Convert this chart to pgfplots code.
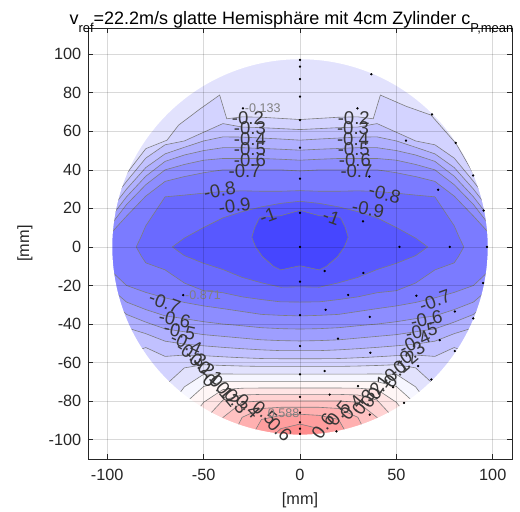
\documentclass[border=0pt]{standalone}
\usepackage{pgfplots}
\pgfplotsset{compat=1.18}
\usepackage{fontspec}
\setmainfont{Liberation Sans}
\definecolor{axgray}{RGB}{38,38,38}
\definecolor{clgray}{RGB}{125,125,125}
\definecolor{lblgray}{RGB}{55,55,55}
\definecolor{bA}{RGB}{70,70,255}   % -1.1 .. -1.0
\definecolor{bB}{RGB}{88,88,255}   % -1.0 .. -0.9
\definecolor{bC}{RGB}{106,106,255} % -0.9 .. -0.8
\definecolor{bD}{RGB}{123,123,255} % -0.8 .. -0.7
\definecolor{bE}{RGB}{141,141,255} % -0.7 .. -0.6
\definecolor{bF}{RGB}{158,158,255} % -0.6 .. -0.5
\definecolor{bG}{RGB}{176,176,255} % -0.5 .. -0.4
\definecolor{bH}{RGB}{193,193,255} % -0.4 .. -0.3
\definecolor{bI}{RGB}{211,211,255} % -0.3 .. -0.2
\definecolor{bJ}{RGB}{226,226,253} % -0.2 .. -0.1
\definecolor{bK}{RGB}{246,246,255} % -0.1 .. 0
\definecolor{rA}{RGB}{255,246,246} % 0 .. 0.1
\definecolor{rB}{RGB}{255,229,229} % 0.1 .. 0.2
\definecolor{rC}{RGB}{255,211,211} % 0.2 .. 0.3
\definecolor{rD}{RGB}{255,193,193} % 0.3 .. 0.4
\definecolor{rE}{RGB}{255,176,176} % 0.4 .. 0.5
\definecolor{rF}{RGB}{255,158,158} % 0.5 .. 0.6
\definecolor{rG}{RGB}{255,141,141} % 0.6 .. 0.7
\tikzset{lbl/.style={font=\fontsize{13.9}{16}\selectfont, text=lblgray, inner sep=0pt},
  ann/.style={font=\fontsize{9.4}{11}\selectfont, text=gray, inner sep=0pt, anchor=west}}
\pgfplotsset{band/.style={fill=#1, draw=none}, cl/.style={clgray, line width=0.45pt}}
\begin{document}
\begin{tikzpicture}
\begin{axis}[
  x=1.4455pt, y=1.4455pt,
  xmin=-110, xmax=110, ymin=-110, ymax=113.6,
  axis on top,
  xtick={-100,-50,0,50,100}, xticklabels={-100,-50,0,50,100},
  ytick={-100,-80,-60,-40,-20,0,20,40,60,80,100},
  yticklabels={-100,-80,-60,-40,-20,0,20,40,60,80,100},
  tick align=inside, major tick length=3.75pt,
  grid=major, grid style={black, opacity=0.15, line width=0.4pt},
  axis line style={axgray, line width=0.5pt},
  tick style={axgray, line width=0.5pt},
  ticklabel style={font=\fontsize{12.2}{14}\selectfont, text=axgray},
  yticklabel style={xshift=-1.5pt},
  xticklabel style={yshift=-4pt},
  xlabel={[mm]}, ylabel={[mm]},
  label style={font=\fontsize{12.2}{14}\selectfont, text=axgray},
  xlabel style={at={(axis description cs:0.5,-0.0951)}, anchor=center},
  ylabel style={at={(axis description cs:-0.1486,0.5)}, anchor=center},
]
% background band (-0.2 .. -0.1)
\addplot[band=bJ] coordinates {(-105,-105) (105,-105) (105,105) (-105,105)};
% nested bands, v < level
\addplot[band=bI] coordinates {(-100,25.0) (-88,40.6) (-80,51) (-69,55.4) (-63,63.2) (-52,71.5) (-41.7,78.8) (-38,66.5) (-30,67.5) (-20,67.3) (-10,66.7) (0,66.1) (10,66.7) (20,67.3) (30,67.5) (38,66.5) (41.7,78.8) (55,73) (68,68.4) (81,53.6) (90,38) (100,22)
 (100,-66.0) (90,-70.4) (80,-70.1) (70,-71.9) (60,-62.75) (50,-61.1) (40,-61.5) (30,-61.8) (20,-62.0) (10,-62.0) (0,-62.0) (-10,-62.0) (-20,-62.0) (-30,-61.8) (-40,-61.5) (-50,-61.1) (-60,-62.75) (-70,-71.9) (-80,-70.1) (-90,-70.4) (-100,-66.0)};
\addplot[band=bH] coordinates {(-100,21.0) (-90,34.0) (-80,46.1) (-70,53.0) (-60,55.0) (-50,59.5) (-40,64.0) (-30,62.2) (-20,61.9) (-10,61.4) (0,60.9) (10,61.4) (20,61.9) (30,62.2) (40,64.0) (50,59.5) (60,55.0) (70,53.0) (80,46.1) (90,34.0) (100,21.0)
 (100,-49.0) (90,-55.7) (80,-52.2) (70,-56.8) (60,-56.1) (50,-56.4) (40,-57.0) (30,-57.5) (20,-57.9) (10,-58.0) (0,-58.0) (-10,-58.0) (-20,-57.9) (-30,-57.5) (-40,-57.0) (-50,-56.4) (-60,-56.1) (-70,-56.8) (-80,-52.2) (-90,-55.7) (-100,-49.0)};
\addplot[band=bG] coordinates {(-100,17.0) (-90,30.0) (-80,41.2) (-70,48.3) (-60,51.7) (-50,55.0) (-40,57.1) (-30,57.0) (-20,56.5) (-10,56.0) (0,55.4) (10,56.0) (20,56.5) (30,57.0) (40,57.1) (50,55.0) (60,51.7) (70,48.3) (80,41.2) (90,30.0) (100,17.0)
 (100,-33.2) (90,-41.9) (80,-45.0) (70,-48.9) (60,-50.4) (50,-51.3) (40,-52.1) (30,-52.8) (20,-53.4) (10,-53.8) (0,-53.8) (-10,-53.8) (-20,-53.4) (-30,-52.8) (-40,-52.1) (-50,-51.3) (-60,-50.4) (-70,-48.9) (-80,-45.0) (-90,-41.9) (-100,-33.2)};
\addplot[band=bF] coordinates {(-100,13.0) (-90,26.0) (-80,36.7) (-70,44.4) (-60,47.7) (-50,50.0) (-40,51.5) (-30,51.5) (-20,51.1) (-10,50.7) (0,50.2) (10,50.7) (20,51.1) (30,51.5) (40,51.5) (50,50.0) (60,47.7) (70,44.4) (80,36.7) (90,26.0) (100,13.0)
 (100,-26.0) (90,-35.0) (80,-39.0) (70,-42.5) (60,-44.0) (50,-45.5) (40,-46.4) (30,-47.3) (20,-48.2) (10,-48.6) (0,-48.8) (-10,-48.6) (-20,-48.2) (-30,-47.3) (-40,-46.4) (-50,-45.5) (-60,-44.0) (-70,-42.5) (-80,-39.0) (-90,-35.0) (-100,-26.0)};
\addplot[band=bE] coordinates {(-100,9.0) (-90,22.0) (-80,32.3) (-70,40.0) (-60,42.8) (-50,45.0) (-40,45.9) (-30,45.9) (-20,45.9) (-10,45.5) (0,45.0) (10,45.5) (20,45.9) (30,45.9) (40,45.9) (50,45.0) (60,42.8) (70,40.0) (80,32.3) (90,22.0) (100,9.0)
 (100,-20.0) (90,-28.6) (80,-32.5) (70,-35.75) (60,-37.2) (50,-38.8) (40,-40.0) (30,-40.9) (20,-41.9) (10,-42.4) (0,-42.6) (-10,-42.4) (-20,-41.9) (-30,-40.9) (-40,-40.0) (-50,-38.8) (-60,-37.2) (-70,-35.75) (-80,-32.5) (-90,-28.6) (-100,-20.0)};
\addplot[band=bD] coordinates {(-100,5.0) (-90,16.0) (-80,26.4) (-70,34.0) (-60,36.5) (-50,38.5) (-40,40.0) (-30,40.0) (-20,40.0) (-10,40.0) (0,39.4) (10,40.0) (20,40.0) (30,40.0) (40,40.0) (50,38.5) (60,36.5) (70,34.0) (80,26.4) (90,16.0) (100,5.0)
 (100,-10.6) (90,-20.0) (80,-23.6) (70,-26.4) (60,-28.8) (50,-30.6) (40,-32.0) (30,-33.5) (20,-35.0) (10,-35.5) (0,-35.8) (-10,-35.5) (-20,-35.0) (-30,-33.5) (-40,-32.0) (-50,-30.6) (-60,-28.8) (-70,-26.4) (-80,-23.6) (-90,-20.0) (-100,-10.6)};
\addplot[band=bC] coordinates {(0,29.2) (10,28.9) (20,28.9) (30,29.1) (40,28.8) (50,27.9) (60,26.9) (70,26.0) (80,11.0) (82.6,5) (85,0) (82.2,-5) (80,-8.25) (70,-11.9) (60,-18.7) (50,-22.7) (40,-23.75) (30,-25.9) (20,-27.3) (10,-28.5) (0,-28.6) (-10,-28.5) (-20,-27.3) (-30,-25.9) (-40,-23.75) (-50,-22.7) (-60,-18.7) (-70,-11.9) (-80,-8.25) (-82.2,-5) (-85,0) (-82.6,5) (-80,11.0) (-70,26.0) (-60,26.9) (-50,27.9) (-40,28.8) (-30,29.1) (-20,28.9) (-10,28.9) (0,29.2)};
\addplot[band=bB] coordinates {(0,23.7) (10,22.6) (20,20.8) (30,18.3) (40,15.1) (50,10.1) (60,4.6) (66.25,0) (60,-4.5) (50,-8.5) (40,-11.7) (30,-15.8) (20,-18.6) (10,-20.9) (0,-20.7) (-10,-20.9) (-20,-18.6) (-30,-15.8) (-40,-11.7) (-50,-8.5) (-60,-4.5) (-66.25,0) (-60,4.6) (-50,10.1) (-40,15.1) (-30,18.3) (-20,20.8) (-10,22.6) (0,23.7)};
\addplot[band=bA] coordinates {(0,19.0) (10,16.2) (20,15.5) (21.1,15) (23.5,10) (25,5) (23,0) (19.5,-5) (13.75,-10) (10,-11.9) (1.2,-10) (0,-9.8) (-1.2,-10) (-10,-11.9) (-13.75,-10) (-19.5,-5) (-23,0) (-25,5) (-23.5,10) (-21.1,15) (-20,15.5) (-10,16.2) (0,19.0)};
% nested bands, v > level
\addplot[band=bK] coordinates {(-80,-85.1) (-70,-86.0) (-60,-72.6) (-50,-66.1) (-40,-65.9) (-30,-66.0) (-20,-66.0) (-10,-66.0) (0,-66.0) (10,-66.0) (20,-66.0) (30,-66.0) (40,-65.9) (50,-66.1) (60,-72.6) (70,-86.0) (80,-85.1) (80,-105) (-80,-105)};
\addplot[band=rA] coordinates {(-70,-100) (-60,-81.4) (-50,-72.4) (-40,-69.9) (-30,-69.9) (-20,-69.9) (-10,-69.9) (0,-69.9) (10,-69.9) (20,-69.9) (30,-69.9) (40,-69.9) (50,-72.4) (60,-81.4) (70,-100) (70,-105) (-70,-105)};
\addplot[band=rB] coordinates {(-65,-100) (-60,-93.7) (-50,-80.6) (-40,-74.0) (-30,-73.3) (-20,-73.2) (-10,-73.2) (0,-73.2) (10,-73.2) (20,-73.2) (30,-73.3) (40,-74.0) (50,-80.6) (60,-93.7) (65,-100) (65,-105) (-65,-105)};
\addplot[band=rC] coordinates {(-55,-100) (-50,-90.2) (-40,-79.5) (-30,-76.8) (-20,-76.5) (-10,-76.5) (0,-76.5) (10,-76.5) (20,-76.5) (30,-76.8) (40,-79.5) (50,-90.2) (55,-100) (55,-105) (-55,-105)};
\addplot[band=rD] coordinates {(-45,-100) (-40,-88.5) (-30,-80.6) (-20,-79.9) (-10,-79.9) (0,-79.9) (10,-79.9) (20,-79.9) (30,-80.6) (40,-88.5) (45,-100) (45,-105) (-45,-105)};
\addplot[band=rE] coordinates {(-36,-100) (-30,-88.4) (-20,-83.8) (-10,-83.2) (0,-83.2) (10,-83.2) (20,-83.8) (30,-88.4) (36,-100) (36,-105) (-36,-105)};
\addplot[band=rF] coordinates {(-26,-100) (-20,-89.5) (-10,-87.4) (0,-86.8) (10,-87.4) (20,-89.5) (26,-100) (26,-105) (-26,-105)};
\addplot[band=rG] coordinates {(-16,-100) (-10,-94.3) (0,-91.9) (10,-94.3) (16,-100) (16,-105) (-16,-105)};
% contour lines
\addplot[cl] coordinates {(-100,25.0) (-88,40.6) (-80,51) (-69,55.4) (-63,63.2) (-52,71.5) (-41.7,78.8) (-38,66.5) (-30,67.5) (-20,67.3) (-10,66.7) (0,66.1) (10,66.7) (20,67.3) (30,67.5) (38,66.5) (41.7,78.8) (55,73) (68,68.4) (81,53.6) (90,38) (100,22)};
\addplot[cl] coordinates {(-100,21.0) (-90,34.0) (-80,46.1) (-70,53.0) (-60,55.0) (-50,59.5) (-40,64.0) (-30,62.2) (-20,61.9) (-10,61.4) (0,60.9) (10,61.4) (20,61.9) (30,62.2) (40,64.0) (50,59.5) (60,55.0) (70,53.0) (80,46.1) (90,34.0) (100,21.0)};
\addplot[cl] coordinates {(-100,17.0) (-90,30.0) (-80,41.2) (-70,48.3) (-60,51.7) (-50,55.0) (-40,57.1) (-30,57.0) (-20,56.5) (-10,56.0) (0,55.4) (10,56.0) (20,56.5) (30,57.0) (40,57.1) (50,55.0) (60,51.7) (70,48.3) (80,41.2) (90,30.0) (100,17.0)};
\addplot[cl] coordinates {(-100,13.0) (-90,26.0) (-80,36.7) (-70,44.4) (-60,47.7) (-50,50.0) (-40,51.5) (-30,51.5) (-20,51.1) (-10,50.7) (0,50.2) (10,50.7) (20,51.1) (30,51.5) (40,51.5) (50,50.0) (60,47.7) (70,44.4) (80,36.7) (90,26.0) (100,13.0)};
\addplot[cl] coordinates {(-100,9.0) (-90,22.0) (-80,32.3) (-70,40.0) (-60,42.8) (-50,45.0) (-40,45.9) (-30,45.9) (-20,45.9) (-10,45.5) (0,45.0) (10,45.5) (20,45.9) (30,45.9) (40,45.9) (50,45.0) (60,42.8) (70,40.0) (80,32.3) (90,22.0) (100,9.0)};
\addplot[cl] coordinates {(-100,5.0) (-90,16.0) (-80,26.4) (-70,34.0) (-60,36.5) (-50,38.5) (-40,40.0) (-30,40.0) (-20,40.0) (-10,40.0) (0,39.4) (10,40.0) (20,40.0) (30,40.0) (40,40.0) (50,38.5) (60,36.5) (70,34.0) (80,26.4) (90,16.0) (100,5.0)};
\addplot[cl] coordinates {(0,29.2) (10,28.9) (20,28.9) (30,29.1) (40,28.8) (50,27.9) (60,26.9) (70,26.0) (80,11.0) (82.6,5) (85,0) (82.2,-5) (80,-8.25) (70,-11.9) (60,-18.7) (50,-22.7) (40,-23.75) (30,-25.9) (20,-27.3) (10,-28.5) (0,-28.6) (-10,-28.5) (-20,-27.3) (-30,-25.9) (-40,-23.75) (-50,-22.7) (-60,-18.7) (-70,-11.9) (-80,-8.25) (-82.2,-5) (-85,0) (-82.6,5) (-80,11.0) (-70,26.0) (-60,26.9) (-50,27.9) (-40,28.8) (-30,29.1) (-20,28.9) (-10,28.9) (0,29.2)};
\addplot[cl] coordinates {(0,23.7) (10,22.6) (20,20.8) (30,18.3) (40,15.1) (50,10.1) (60,4.6) (66.25,0) (60,-4.5) (50,-8.5) (40,-11.7) (30,-15.8) (20,-18.6) (10,-20.9) (0,-20.7) (-10,-20.9) (-20,-18.6) (-30,-15.8) (-40,-11.7) (-50,-8.5) (-60,-4.5) (-66.25,0) (-60,4.6) (-50,10.1) (-40,15.1) (-30,18.3) (-20,20.8) (-10,22.6) (0,23.7)};
\addplot[cl] coordinates {(0,19.0) (10,16.2) (20,15.5) (21.1,15) (23.5,10) (25,5) (23,0) (19.5,-5) (13.75,-10) (10,-11.9) (1.2,-10) (0,-9.8) (-1.2,-10) (-10,-11.9) (-13.75,-10) (-19.5,-5) (-23,0) (-25,5) (-23.5,10) (-21.1,15) (-20,15.5) (-10,16.2) (0,19.0)};
\addplot[cl] coordinates {(-100,-10.6) (-90,-20.0) (-80,-23.6) (-70,-26.4) (-60,-28.8) (-50,-30.6) (-40,-32.0) (-30,-33.5) (-20,-35.0) (-10,-35.5) (0,-35.8) (10,-35.5) (20,-35.0) (30,-33.5) (40,-32.0) (50,-30.6) (60,-28.8) (70,-26.4) (80,-23.6) (90,-20.0) (100,-10.6)};
\addplot[cl] coordinates {(-100,-20.0) (-90,-28.6) (-80,-32.5) (-70,-35.75) (-60,-37.2) (-50,-38.8) (-40,-40.0) (-30,-40.9) (-20,-41.9) (-10,-42.4) (0,-42.6) (10,-42.4) (20,-41.9) (30,-40.9) (40,-40.0) (50,-38.8) (60,-37.2) (70,-35.75) (80,-32.5) (90,-28.6) (100,-20.0)};
\addplot[cl] coordinates {(-100,-26.0) (-90,-35.0) (-80,-39.0) (-70,-42.5) (-60,-44.0) (-50,-45.5) (-40,-46.4) (-30,-47.3) (-20,-48.2) (-10,-48.6) (0,-48.8) (10,-48.6) (20,-48.2) (30,-47.3) (40,-46.4) (50,-45.5) (60,-44.0) (70,-42.5) (80,-39.0) (90,-35.0) (100,-26.0)};
\addplot[cl] coordinates {(-100,-33.2) (-90,-41.9) (-80,-45.0) (-70,-48.9) (-60,-50.4) (-50,-51.3) (-40,-52.1) (-30,-52.8) (-20,-53.4) (-10,-53.8) (0,-53.8) (10,-53.8) (20,-53.4) (30,-52.8) (40,-52.1) (50,-51.3) (60,-50.4) (70,-48.9) (80,-45.0) (90,-41.9) (100,-33.2)};
\addplot[cl] coordinates {(-100,-49.0) (-90,-55.7) (-80,-52.2) (-70,-56.8) (-60,-56.1) (-50,-56.4) (-40,-57.0) (-30,-57.5) (-20,-57.9) (-10,-58.0) (0,-58.0) (10,-58.0) (20,-57.9) (30,-57.5) (40,-57.0) (50,-56.4) (60,-56.1) (70,-56.8) (80,-52.2) (90,-55.7) (100,-49.0)};
\addplot[cl] coordinates {(-100,-66.0) (-90,-70.4) (-80,-70.1) (-70,-71.9) (-60,-62.75) (-50,-61.1) (-40,-61.5) (-30,-61.8) (-20,-62.0) (-10,-62.0) (0,-62.0) (10,-62.0) (20,-62.0) (30,-61.8) (40,-61.5) (50,-61.1) (60,-62.75) (70,-71.9) (80,-70.1) (90,-70.4) (100,-66.0)};
\addplot[cl] coordinates {(-80,-85.1) (-70,-86.0) (-60,-72.6) (-50,-66.1) (-40,-65.9) (-30,-66.0) (-20,-66.0) (-10,-66.0) (0,-66.0) (10,-66.0) (20,-66.0) (30,-66.0) (40,-65.9) (50,-66.1) (60,-72.6) (70,-86.0) (80,-85.1)};
\addplot[cl] coordinates {(-70,-100) (-60,-81.4) (-50,-72.4) (-40,-69.9) (-30,-69.9) (-20,-69.9) (-10,-69.9) (0,-69.9) (10,-69.9) (20,-69.9) (30,-69.9) (40,-69.9) (50,-72.4) (60,-81.4) (70,-100)};
\addplot[cl] coordinates {(-65,-100) (-60,-93.7) (-50,-80.6) (-40,-74.0) (-30,-73.3) (-20,-73.2) (-10,-73.2) (0,-73.2) (10,-73.2) (20,-73.2) (30,-73.3) (40,-74.0) (50,-80.6) (60,-93.7) (65,-100)};
\addplot[cl] coordinates {(-55,-100) (-50,-90.2) (-40,-79.5) (-30,-76.8) (-20,-76.5) (-10,-76.5) (0,-76.5) (10,-76.5) (20,-76.5) (30,-76.8) (40,-79.5) (50,-90.2) (55,-100)};
\addplot[cl] coordinates {(-45,-100) (-40,-88.5) (-30,-80.6) (-20,-79.9) (-10,-79.9) (0,-79.9) (10,-79.9) (20,-79.9) (30,-80.6) (40,-88.5) (45,-100)};
\addplot[cl] coordinates {(-36,-100) (-30,-88.4) (-20,-83.8) (-10,-83.2) (0,-83.2) (10,-83.2) (20,-83.8) (30,-88.4) (36,-100)};
\addplot[cl] coordinates {(-26,-100) (-20,-89.5) (-10,-87.4) (0,-86.8) (10,-87.4) (20,-89.5) (26,-100)};
\addplot[cl] coordinates {(-16,-100) (-10,-94.3) (0,-91.9) (10,-94.3) (16,-100)};
% mask outside the measured disc
\fill[white, even odd rule] (rel axis cs:0,0) rectangle (rel axis cs:1,1) (axis cs:0,0) circle[radius=97.4];
% measurement points
\addplot[only marks, mark=*, mark size=0.65pt, black] coordinates {
(0,97) (0,93.6) (0,87.1) (0,78) (0,65.8) (0,51.5) (0,35.4) (0,17.7) (0,0) (0,-18) (0,-35.4) (0,-51.4) (0,-66.1) (0,-77.8) (0,-86) (0,-91) (0,-94.3) (0,-97)
(-29.6,71.9) (-60.6,-25)
(37,89.6) (29.8,71.9) (68.5,68.75) (55,55.2) (80.8,54) (89.8,37.1) (36,36.5) (71.7,29.7) (95.3,18.9) (32.7,13.3) (51.6,0) (77.7,0) (97,0) (12.8,-12.5) (32.9,-13.5) (95,-18.75) (25,-24.9) (60.4,-25.3) (13.3,-32.6) (36.2,-36.3) (80.3,-33.5) (89.9,-37.1) (19.7,-47.6) (72.5,-48.4) (36.5,-54.9) (80.3,-54) (61.3,-61.8) (12.8,-64.4) (68.2,-68.8) (30.1,-72.2) (48.3,-72.8) (15.4,-76.6) (54,-80.9) (36.2,-87) (18.9,-95.7)
};
% contour labels
\node[lbl] at (axis cs:-27,66.7) {-0.2};
\node[lbl] at (axis cs:-26,61.5) {-0.3};
\node[lbl] at (axis cs:-26,56.2) {-0.4};
\node[lbl] at (axis cs:-26,50.7) {-0.5};
\node[lbl] at (axis cs:-26,45) {-0.6};
\node[lbl] at (axis cs:-28.7,39.2) {-0.7};
\node[lbl] at (axis cs:27.9,66.7) {-0.2};
\node[lbl] at (axis cs:27.5,61.5) {-0.3};
\node[lbl] at (axis cs:27.5,56.2) {-0.4};
\node[lbl] at (axis cs:27.9,50.7) {-0.5};
\node[lbl] at (axis cs:28.5,45) {-0.6};
\node[lbl] at (axis cs:29.3,39.2) {-0.7};
\node[lbl, rotate=10] at (axis cs:-41.7,29.3) {-0.8};
\node[lbl, rotate=-15] at (axis cs:44,27.6) {-0.8};
\node[lbl, rotate=8] at (axis cs:-33.9,21.5) {-0.9};
\node[lbl, rotate=-10] at (axis cs:35.3,19.8) {-0.9};
\node[lbl, rotate=20] at (axis cs:-16.6,16.3) {-1};
\node[lbl, rotate=-20] at (axis cs:16.3,15.5) {-1};
\node[lbl, rotate=-20] at (axis cs:-70.2,-28.8) {-0.7};
\node[lbl, rotate=-12] at (axis cs:-65,-37.5) {-0.6};
\node[lbl, rotate=-12] at (axis cs:-62.4,-43.6) {-0.5};
\node[lbl, rotate=-25] at (axis cs:-59,-50) {-0.4};
\node[lbl, rotate=-35] at (axis cs:-56.4,-55.7) {-0.3};
\node[lbl, rotate=-40] at (axis cs:-52,-60) {-0.2};
\node[lbl, rotate=-40] at (axis cs:-47.8,-64.4) {-0.1};
\node[lbl, rotate=-45] at (axis cs:-47,-69.6) {0};
\node[lbl, rotate=-50] at (axis cs:-40.8,-73) {0.1};
\node[lbl, rotate=-50] at (axis cs:-37.4,-76.6) {0.2};
\node[lbl, rotate=-50] at (axis cs:-33,-80) {0.3};
\node[lbl, rotate=-45] at (axis cs:-27,-82.6) {0.4};
\node[lbl, rotate=-40] at (axis cs:-18.3,-86) {0.5};
\node[lbl, rotate=-45] at (axis cs:-10.5,-94.8) {0.6};
\node[lbl, rotate=20] at (axis cs:70,-28) {-0.7};
\node[lbl, rotate=12] at (axis cs:65.6,-37.5) {-0.6};
\node[lbl, rotate=12] at (axis cs:63,-43.6) {-0.5};
\node[lbl, rotate=25] at (axis cs:59.5,-49.6) {-0.4};
\node[lbl, rotate=35] at (axis cs:57,-55.7) {-0.3};
\node[lbl, rotate=40] at (axis cs:53.6,-61) {-0.2};
\node[lbl, rotate=40] at (axis cs:49,-65.3) {-0.1};
\node[lbl, rotate=45] at (axis cs:47,-69.6) {0};
\node[lbl, rotate=55] at (axis cs:41,-73) {0.1};
\node[lbl, rotate=55] at (axis cs:37.5,-77) {0.2};
\node[lbl, rotate=55] at (axis cs:33,-80.5) {0.3};
\node[lbl, rotate=50] at (axis cs:27,-83.5) {0.4};
\node[lbl, rotate=50] at (axis cs:20,-86.5) {0.5};
\node[lbl, rotate=55] at (axis cs:12,-93) {0.6};
% point annotations
\node[ann] at (axis cs:-28.7,71.9) {-0.133};
\node[ann] at (axis cs:-59.7,-25) {-0.871};
\node[ann] at (axis cs:-16.8,-86) {0.588};
\end{axis}
\node[anchor=base west, inner sep=0pt, font=\fontsize{13.5}{15}\selectfont, text=black] at ([shift={(-14pt,2.25pt)}]current axis.north west) {v\raisebox{-5.5pt}{\fontsize{9.7}{11}\selectfont ref}=22.2m/s glatte Hemisphäre mit 4cm Zylinder c\raisebox{-5.5pt}{\fontsize{9.7}{11}\selectfont P,mean}};
\pgfresetboundingbox
\path ([shift={(-66pt,-39.75pt)}]current axis.south west) rectangle ([shift={(6pt,21pt)}]current axis.north east);
\end{tikzpicture}
\end{document}
